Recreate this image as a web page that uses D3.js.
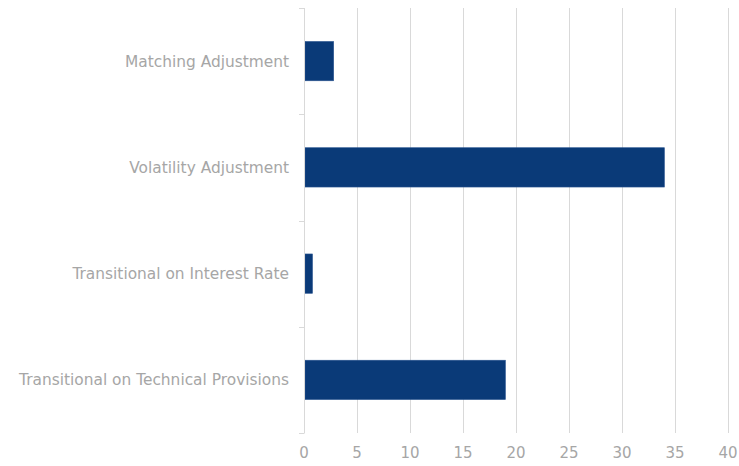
<!DOCTYPE html>
<html><head><meta charset="utf-8">
<script src="https://cdn.jsdelivr.net/npm/d3@7"></script>
<style>body{margin:0;background:#fff;} svg{display:block;}</style>
</head><body>
<svg id="c" width="739" height="466"></svg>
<script>
const categories = ["Matching Adjustment","Volatility Adjustment","Transitional on Interest Rate","Transitional on Technical Provisions"];
const values = [2.8, 34, 0.8, 19];
const xTicks = [0,5,10,15,20,25,30,35,40];

const svg = d3.select("#c");
const m = {left:304, right:11, top:8, bottom:33};
const W = 739, H = 466;
const x = d3.scaleLinear().domain([0,40]).range([m.left, W-m.right]);
const y = d3.scaleBand().domain(categories).range([m.top, H-m.bottom]).paddingInner(0.63).paddingOuter(0.315);
const grey = "#d9d9d9", txt = "#a6a6a6";
const font = "DejaVu Sans, Verdana, sans-serif";

// gridlines
svg.append("g").selectAll("line").data(xTicks.slice(1)).join("line")
  .attr("x1", d=>x(d)+0.5).attr("x2", d=>x(d)+0.5)
  .attr("y1", m.top).attr("y2", H-m.bottom)
  .attr("stroke", grey).attr("stroke-width",1);

// x tick labels
svg.append("g").selectAll("text").data(xTicks).join("text")
  .attr("x", d=>x(d)).attr("y", 458)
  .attr("text-anchor","middle").attr("fill", txt)
  .attr("font-family", font).attr("font-size", 15).text(d=>d);

// bars
svg.append("g").selectAll("rect").data(values).join("rect")
  .attr("x", x(0)+1).attr("y", (d,i)=>y(categories[i]))
  .attr("width", d=>x(d)-x(0)-1).attr("height", y.bandwidth())
  .attr("fill", "#0a3a78").attr("stroke","#2a5490").attr("stroke-width",0.6);

// y axis line + ticks at category boundaries
const bounds = d3.range(categories.length+1).map(i => m.top + i*((H-m.bottom-m.top)/categories.length));
svg.append("line").attr("x1", x(0)+0.5).attr("x2", x(0)+0.5).attr("y1", m.top).attr("y2", H-m.bottom)
  .attr("stroke", grey);
svg.append("g").selectAll("line").data(bounds).join("line")
  .attr("x1", x(0)-5).attr("x2", x(0)+0.5).attr("y1", d=>Math.round(d)+0.5).attr("y2", d=>Math.round(d)+0.5)
  .attr("stroke", grey);

// y labels
svg.append("g").selectAll("text").data(categories).join("text")
  .attr("x", x(0)-15).attr("y", d=>y(d)+y.bandwidth()/2)
  .attr("dy","0.35em").attr("text-anchor","end").attr("fill", txt)
  .attr("font-family", font).attr("font-size", 15.4).text(d=>d);
</script>
</body></html>
